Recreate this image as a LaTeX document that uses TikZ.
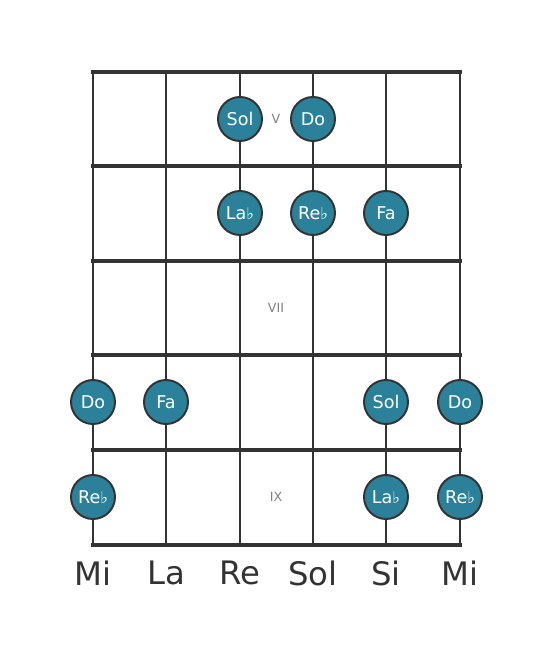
\documentclass[tikz,border=0pt]{standalone}
\usepackage{fontspec}
\setmainfont{DejaVu Sans}
\definecolor{notefill}{HTML}{2A8199}
\definecolor{griddark}{HTML}{333333}
\newcommand{\flt}{{\fontsize{23}{23}\selectfont ♭}}

\begin{document}
\begin{tikzpicture}[x=0.5mm, y=-0.5mm,
        note/.style={circle, draw=griddark, line width=2.8pt, fill=notefill,
            minimum size=22mm, inner sep=0pt, text=white,
            font=\fontsize{25}{25}\selectfont},
        fretnum/.style={text=gray, font=\fontsize{18}{18}\selectfont},
        stringname/.style={text=griddark, font=\fontsize{46}{46}\selectfont}]
    \useasboundingbox (0, 0) rectangle (553, 656);
    % strings
    \foreach \x in {93, 166, 240, 313, 386, 460} {
        \draw [griddark, line width=4pt] (\x, 72) -- (\x, 545);
    }
    % frets and nut
    \draw [griddark, line width=7pt] (91, 72) -- (462, 72);
    \foreach \y in {166, 261, 355, 450, 545} {
        \draw [griddark, line width=6pt] (91, \y) -- (462, \y);
    }
    % fret numbers
    \node [fretnum] (fretV) at (276, 119) {V};
    \node [fretnum] (fretVII) at (276, 308) {VII};
    \node [fretnum] (fretIX) at (276, 497) {IX};
    % notes
    \node [note] (solA) at (240, 119) {Sol};
    \node [note] (doA) at (313, 119) {Do};
    \node [note] (laA) at (240, 213) {La\flt};
    \node [note] (reA) at (313, 213) {Re\flt};
    \node [note] (faA) at (386, 213) {Fa};
    \node [note] (doB) at (93, 402) {Do};
    \node [note] (faB) at (166, 402) {Fa};
    \node [note] (solB) at (386, 402) {Sol};
    \node [note] (doC) at (460, 402) {Do};
    \node [note] (reB) at (93, 497) {Re\flt};
    \node [note] (laB) at (386, 497) {La\flt};
    \node [note] (reC) at (460, 497) {Re\flt};
    % string names
    \node [stringname] (mi6) at (93, 573) {Mi};
    \node [stringname] (la5) at (166, 573) {La};
    \node [stringname] (re4) at (240, 573) {Re};
    \node [stringname] (sol3) at (313, 573) {Sol};
    \node [stringname] (si2) at (386, 573) {Si};
    \node [stringname] (mi1) at (460, 573) {Mi};
\end{tikzpicture}
\end{document}
